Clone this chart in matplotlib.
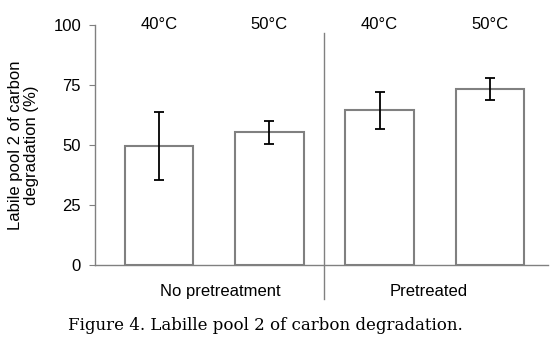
import matplotlib
matplotlib.use("Agg")
from matplotlib import pyplot as plt
import matplotlib.transforms as mtransforms

temps = ["40°C", "50°C", "40°C", "50°C"]
groups = ["No pretreatment", "Pretreated"]
values = [49.6, 55.4, 64.4, 73.3]
errors = [14.0, 4.8, 7.6, 4.6]
yticks = [0, 25, 50, 75, 100]

plt.rcParams["font.family"] = ["Liberation Sans", "DejaVu Sans"]

fig = plt.figure(figsize=(5.5, 3.5), dpi=100)
ax = fig.add_axes([0.1727, 0.2429, 0.8237, 0.6857])

x = list(range(len(values)))
ax.bar(x, values, width=0.62, color="white", edgecolor="#808080", linewidth=1.5, zorder=2)
ax.errorbar(x, values, yerr=errors, fmt="none", ecolor="black", elinewidth=1.3,
            capsize=3.5, capthick=1.3, zorder=3)

ax.set_xlim(-0.58, 3.526)
ax.set_ylim(0, 100)
ax.set_yticks(yticks)
ax.set_xticks([])
ax.tick_params(axis="y", length=4, color="#808080", labelsize=12, pad=6)
for s in ["top", "right"]:
    ax.spines[s].set_visible(False)
for s in ["left", "bottom"]:
    ax.spines[s].set_color("#808080")
    ax.spines[s].set_linewidth(1.0)

ax.set_ylabel("Labile pool 2 of carbon\ndegradation (%)", fontsize=12, labelpad=10,
              linespacing=1.1)

# temperature labels above the bars, level with the 100 tick
for xi, t in zip(x, temps):
    ax.text(xi, 100, t, ha="center", va="center", fontsize=12)

# group labels and divider
trans = mtransforms.blended_transform_factory(ax.transData, ax.transAxes)
ax.text(0.56, -0.11, groups[0], transform=trans, ha="center", va="center", fontsize=12)
ax.text(2.44, -0.11, groups[1], transform=trans, ha="center", va="center", fontsize=12)
ax.plot([1.5, 1.5], [-0.14, 0.965], transform=trans, color="#808080", linewidth=1.0,
        clip_on=False)

fig.text(0.482, 0.07, "Figure 4. Labille pool 2 of carbon degradation.",
         ha="center", va="center", fontsize=12, family="DejaVu Serif")

fig.savefig("out.png", dpi=100)
